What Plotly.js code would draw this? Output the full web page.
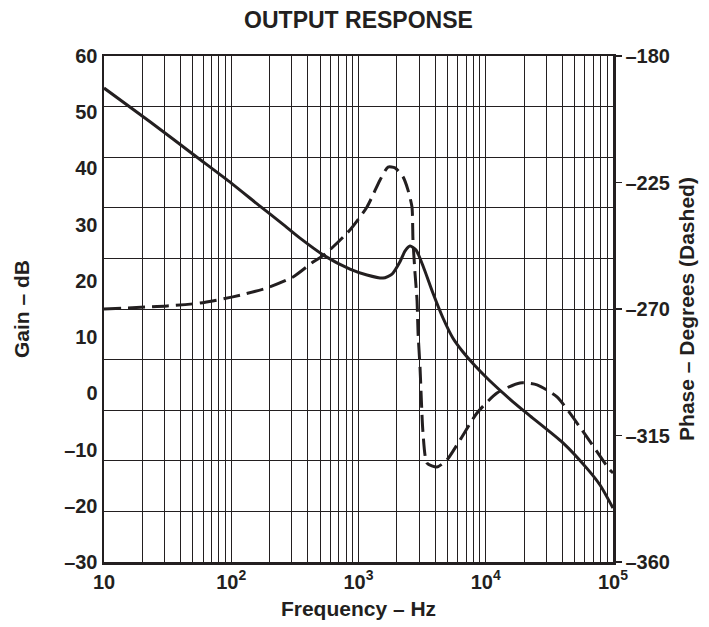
<!DOCTYPE html>
<html>
<head>
<meta charset="utf-8">
<script src="https://cdn.plot.ly/plotly-3.0.1.min.js"></script>
<style>html,body{margin:0;padding:0;background:#fff;}#chart{width:709px;height:627px;}</style>
</head>
<body>
<div id="chart"></div>
<script>
// Gain curve (solid), frequency in Hz, gain in dB
const gainFreq = [10, 23.0, 53.8, 100, 168, 254, 347, 546, 857, 1166, 1560, 1834, 2118, 2318, 2541, 2832, 3215, 3851, 4613, 5528, 6625, 8232, 10800, 16370, 22270, 40460, 62150, 79060, 100000];
const gainDb   = [54.3, 48.3, 42.0, 37.4, 33.3, 30.1, 27.6, 24.4, 22.1, 21.05, 20.5, 21.2, 23.4, 25.3, 26.2, 25.5, 22.65, 17.8, 13.4, 9.8, 7.35, 4.9, 2.2, -1.5, -4.0, -8.8, -13.3, -16.3, -20.4];

// Phase curve (dashed), frequency in Hz, phase in degrees
const phaseFreq = [10, 31.3, 56.8, 103, 191, 306, 439, 546, 857, 1166, 1477, 1706, 1938, 2240, 2450, 2632, 2680, 2780, 2883, 2938, 3043, 3213, 3455, 4138, 4957, 6276, 8537, 12250, 18580, 25280, 36300, 55000, 94600, 100000];
const phaseDeg  = [-270, -268.9, -267.9, -265.7, -262.5, -258.6, -253.3, -250.5, -241.9, -233.7, -224.1, -219.5, -219.8, -223.0, -227.7, -233.7, -245.5, -257.2, -266.8, -278.5, -290.6, -314.1, -324.8, -326.2, -323.7, -316.6, -307.0, -299.9, -296.3, -297.0, -301.3, -312.0, -327.3, -328.3];

// Tick labels
const freqTickVals = [10, 100, 1000, 10000, 100000];
const freqTickText = ['10', '10<sup>2</sup>', '10<sup>3</sup>', '10<sup>4</sup>', '10<sup>5</sup>'];
const gainTickVals = [-30, -20, -10, 0, 10, 20, 30, 40, 50, 60];
const gainTickText = ['\u201330', '\u201320', '\u201310', '0', '10', '20', '30', '40', '50', '60'];
const phaseTickVals = [-360, -315, -270, -225, -180];
const phaseTickText = ['\u2013360', '\u2013315', '\u2013270', '\u2013225', '\u2013180'];

// grid positions (vertical: 2..9 per decade; horizontal: 10 equal divisions)
const minorFreq = [];
for (let d = 10; d < 100000; d *= 10) {
  for (let k = 2; k <= 9; k++) minorFreq.push(d * k);
}
const hGrid = [];
for (let i = 1; i < 10; i++) hGrid.push(-30 + 9 * i);

const ink = '#231f20';
const fontFam = 'Liberation Sans, Arial, Helvetica, sans-serif';
const tickFont = {family: fontFam, size: 20, color: ink, weight: 'bold'};
const axTitleFont = {family: fontFam, size: 21, color: ink, weight: 'bold'};

const traces = [
  {
    x: gainFreq, y: gainDb, type: 'scatter', mode: 'lines',
    line: {color: ink, width: 3, shape: 'spline', smoothing: 0.6},
    xaxis: 'x', yaxis: 'y', hoverinfo: 'skip', showlegend: false
  },
  {
    x: phaseFreq, y: phaseDeg, type: 'scatter', mode: 'lines',
    line: {color: ink, width: 3, dash: '17px,7px', shape: 'spline', smoothing: 0.6},
    xaxis: 'x', yaxis: 'y2', hoverinfo: 'skip', showlegend: false
  }
];

const layout = {
  width: 709, height: 627,
  margin: {l: 104, r: 96, t: 56, b: 65, pad: 0},
  paper_bgcolor: '#fff', plot_bgcolor: '#fff',
  font: {family: fontFam, color: ink, size: 20, weight: 'bold'},
  title: {
    text: 'OUTPUT RESPONSE',
    font: {family: fontFam, size: 23, color: ink, weight: 'bold'},
    x: 0.5, xref: 'paper', xanchor: 'center',
    y: 1 - 20 / 627, yref: 'container', yanchor: 'middle'
  },
  xaxis: {
    type: 'log', range: [1, 5],
    tickmode: 'array', tickvals: freqTickVals, ticktext: freqTickText,
    ticks: '', showgrid: true, gridcolor: ink, gridwidth: 1,
    minor: {tickmode: 'array', tickvals: minorFreq, showgrid: true, gridcolor: ink, gridwidth: 1, ticks: ''},
    showline: true, linecolor: ink, linewidth: 2.5, mirror: true,
    zeroline: false,
    tickfont: tickFont,
    title: {text: 'Frequency \u2013 Hz', font: axTitleFont, standoff: 10}
  },
  yaxis: {
    range: [-30, 60],
    tickmode: 'array', tickvals: gainTickVals, ticktext: gainTickText,
    ticks: '', showgrid: false, zeroline: false,
    minor: {tickmode: 'array', tickvals: hGrid, showgrid: true, gridcolor: ink, gridwidth: 1, ticks: ''},
    showline: true, linecolor: ink, linewidth: 2.5,
    tickfont: tickFont,
    title: {text: 'Gain \u2013 dB', font: axTitleFont, standoff: 29}
  },
  yaxis2: {
    range: [-360, -180], overlaying: 'y', side: 'right',
    tickmode: 'array', tickvals: phaseTickVals, ticktext: phaseTickText,
    ticks: 'outside', ticklen: 6, tickwidth: 1.5, tickcolor: ink,
    showgrid: false, zeroline: false,
    showline: true, linecolor: ink, linewidth: 2.5,
    tickfont: tickFont,
    title: {text: 'Phase \u2013 Degrees (Dashed)', font: axTitleFont, standoff: 11}
  }
};

Plotly.newPlot('chart', traces, layout, {displayModeBar: false, staticPlot: true});
</script>
</body>
</html>
